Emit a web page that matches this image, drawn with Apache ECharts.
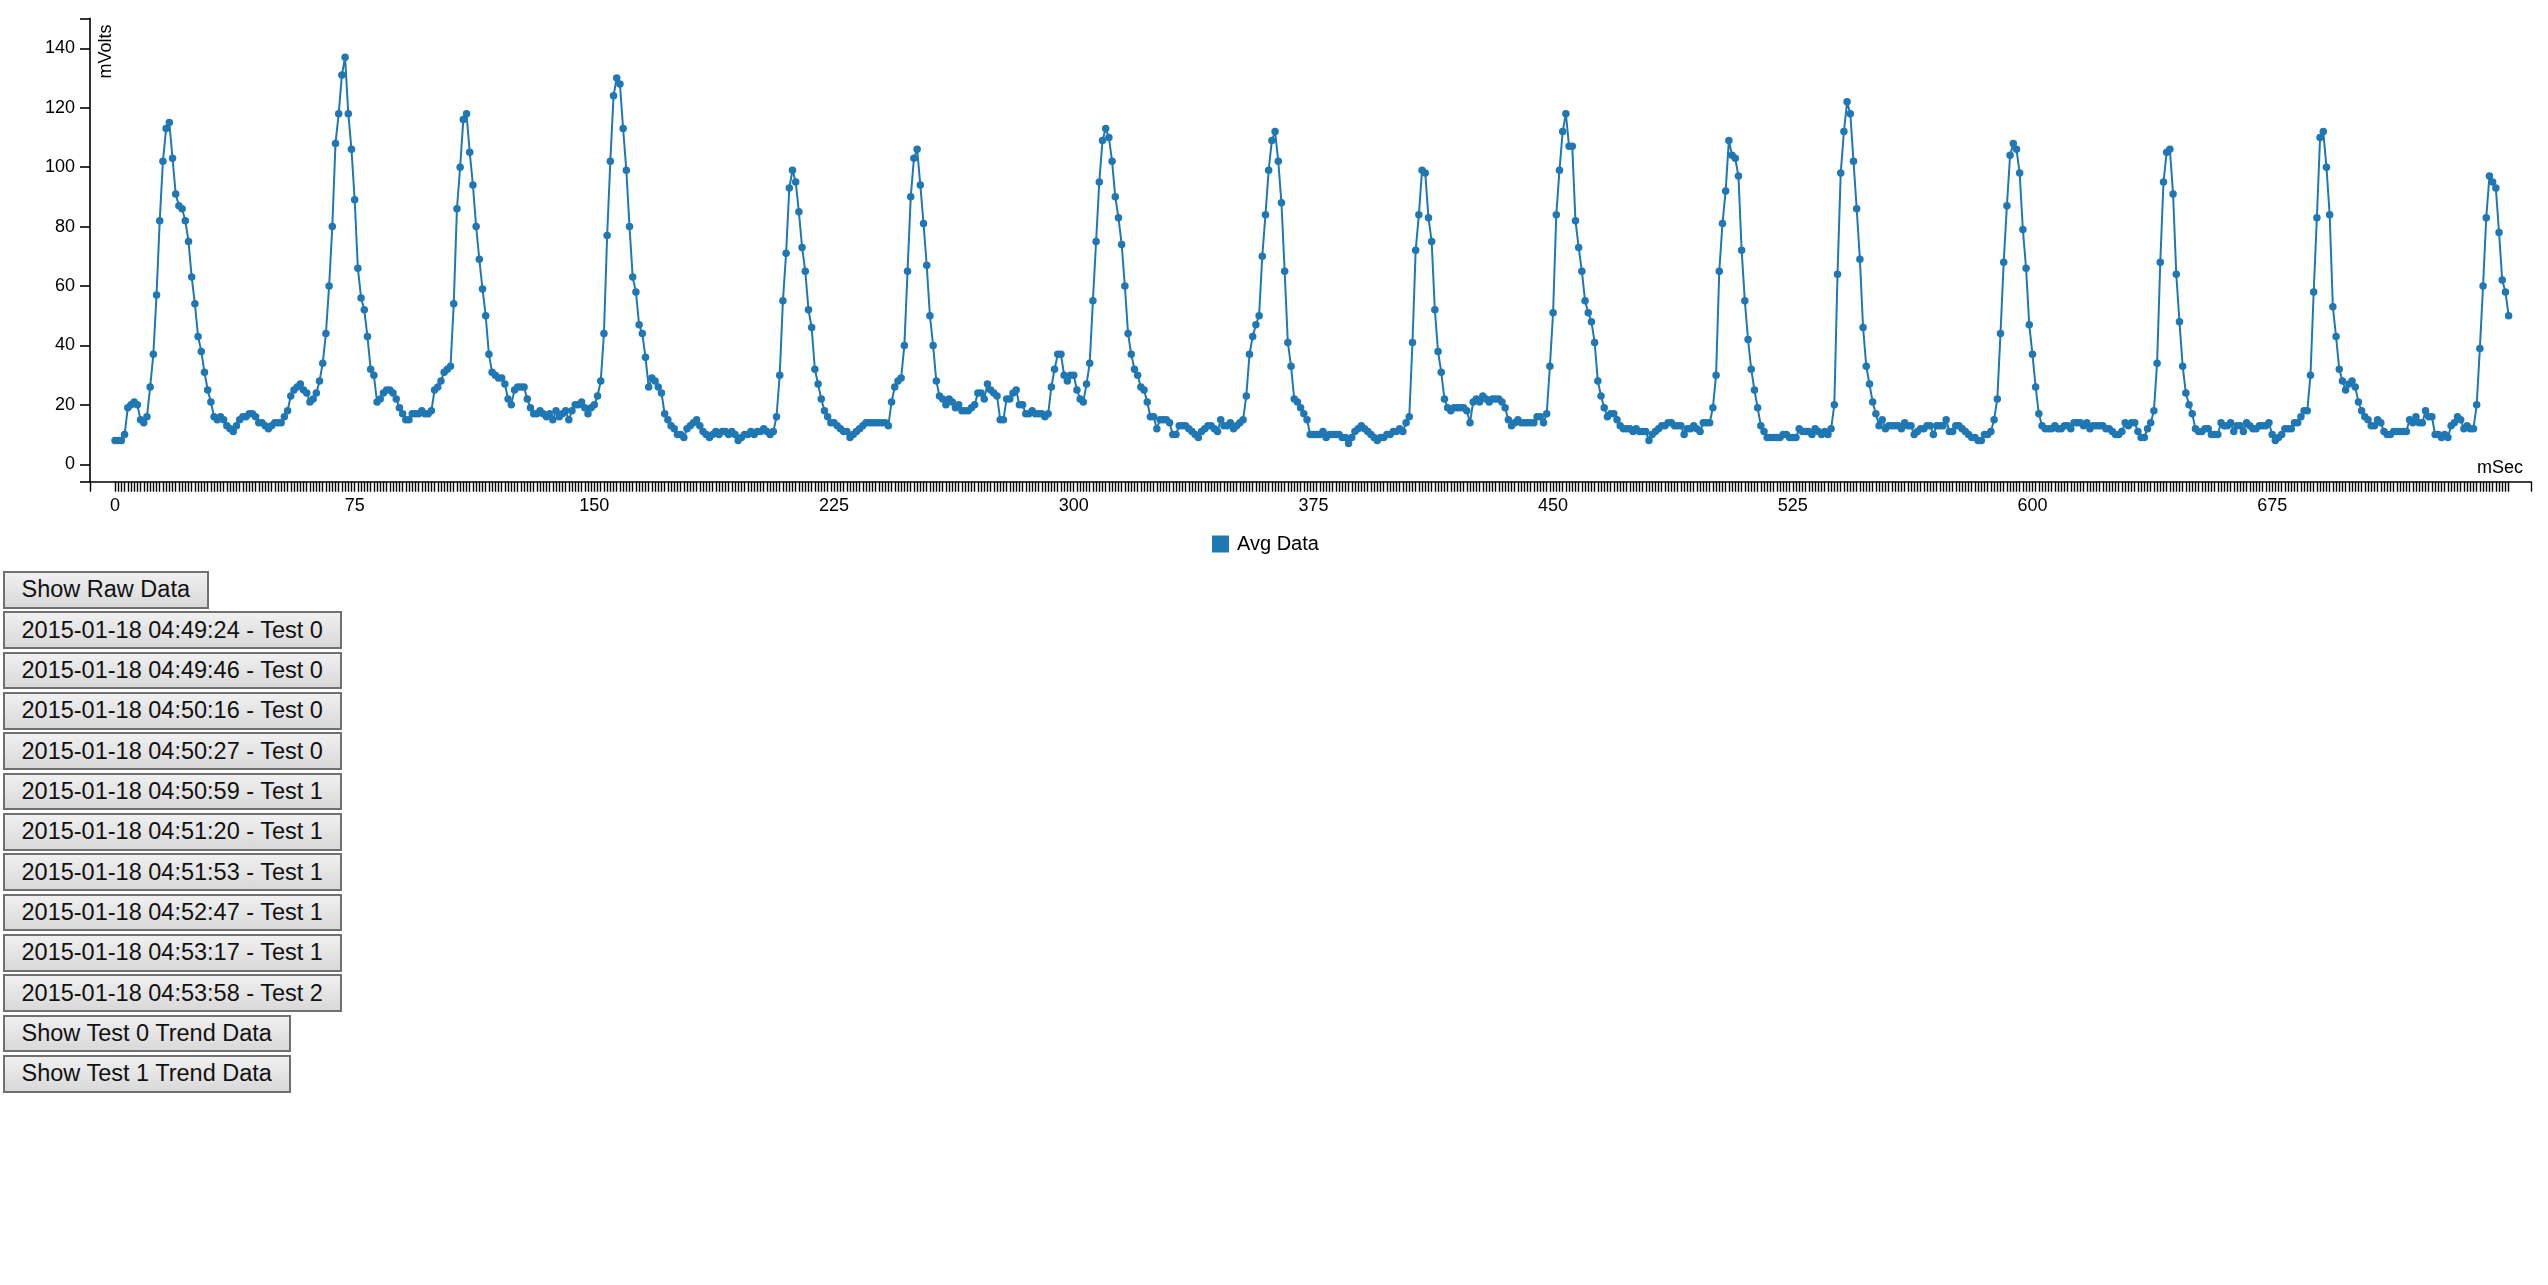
<!DOCTYPE html>
<html>
<head>
<meta charset="utf-8">
<title>Avg Data</title>
<script src="https://cdn.jsdelivr.net/npm/echarts@6/dist/echarts.min.js"></script>
<style>
html, body { margin: 0; padding: 0; background: #fff; }
#chart { position: absolute; left: 0; top: 0; width: 2548px; height: 565px; }
#buttons { position: absolute; left: 2.5px; top: 571px; }
#buttons button {
  display: block; box-sizing: border-box; height: 37.5px; margin: 0 0 2.85px 0;
  padding: 0 17px; border: 2px solid #707070;
  background: linear-gradient(#f0f0f0, #d9d9d9);
  font: 23.5px "Liberation Sans", Arial, sans-serif; color: #111; cursor: pointer;
}
</style>
</head>
<body>
<div id="chart"></div>
<div id="buttons">
  <button>Show Raw Data</button>
  <button>2015-01-18 04:49:24 - Test 0</button>
  <button>2015-01-18 04:49:46 - Test 0</button>
  <button>2015-01-18 04:50:16 - Test 0</button>
  <button>2015-01-18 04:50:27 - Test 0</button>
  <button>2015-01-18 04:50:59 - Test 1</button>
  <button>2015-01-18 04:51:20 - Test 1</button>
  <button>2015-01-18 04:51:53 - Test 1</button>
  <button>2015-01-18 04:52:47 - Test 1</button>
  <button>2015-01-18 04:53:17 - Test 1</button>
  <button>2015-01-18 04:53:58 - Test 2</button>
  <button>Show Test 0 Trend Data</button>
  <button>Show Test 1 Trend Data</button>
</div>
<script>
// Avg Data (mVolts), one value per mSec
const avgData_0_149 = [
  8, 8, 8, 10, 19, 20, 21, 20, 15, 14,
  16, 26, 37, 57, 82, 102, 113, 115, 103, 91,
  87, 86, 82, 75, 63, 54, 43, 38, 31, 25,
  21, 16, 15, 16, 15, 13, 12, 11, 13, 15,
  16, 16, 17, 17, 16, 14, 14, 13, 12, 13,
  14, 14, 14, 16, 18, 23, 25, 26, 27, 25,
  24, 21, 22, 24, 28, 34, 44, 60, 80, 108,
  118, 131, 137, 118, 106, 89, 66, 56, 52, 43,
  32, 30, 21, 22, 24, 25, 25, 24, 22, 19,
  17, 15, 15, 17, 17, 17, 18, 17, 17, 18,
  25, 26, 28, 31, 32, 33, 54, 86, 100, 116,
  118, 105, 94, 80, 69, 59, 50, 37, 31, 30,
  29, 29, 27, 22, 20, 25, 26, 26, 26, 22,
  19, 17, 17, 18, 17, 16, 17, 15, 18, 16,
  17, 18, 15, 18, 20, 20, 21, 19, 17, 19
];
const avgData_150_299 = [
  20, 23, 28, 44, 77, 102, 124, 130, 128, 113,
  99, 80, 63, 58, 47, 44, 36, 26, 29, 28,
  26, 24, 17, 15, 13, 12, 10, 10, 9, 12,
  13, 14, 15, 13, 11, 10, 9, 10, 11, 10,
  11, 11, 10, 11, 10, 8, 9, 10, 10, 11,
  10, 11, 11, 12, 11, 10, 11, 16, 30, 55,
  71, 93, 99, 95, 85, 73, 65, 52, 46, 32,
  27, 22, 18, 16, 14, 14, 13, 12, 11, 11,
  9, 10, 11, 12, 13, 14, 14, 14, 14, 14,
  14, 14, 13, 21, 26, 28, 29, 40, 65, 90,
  103, 106, 94, 81, 67, 50, 40, 28, 23, 22,
  20, 22, 21, 19, 20, 18, 18, 18, 19, 20,
  24, 24, 22, 27, 25, 24, 23, 15, 15, 22,
  22, 24, 25, 20, 20, 17, 17, 18, 17, 17,
  17, 16, 17, 26, 32, 37, 37, 30, 28, 30
];
const avgData_300_449 = [
  30, 25, 22, 21, 27, 34, 55, 75, 95, 109,
  113, 110, 102, 90, 83, 74, 60, 44, 37, 32,
  30, 26, 25, 21, 16, 16, 12, 15, 15, 15,
  14, 10, 10, 13, 13, 13, 12, 11, 10, 9,
  11, 12, 13, 13, 12, 11, 15, 13, 13, 14,
  12, 13, 14, 15, 23, 37, 43, 47, 50, 70,
  84, 99, 109, 112, 102, 88, 65, 41, 33, 22,
  21, 19, 17, 15, 10, 10, 10, 10, 11, 9,
  10, 10, 10, 10, 9, 9, 7, 9, 11, 12,
  13, 12, 11, 10, 9, 8, 9, 9, 10, 10,
  11, 11, 12, 11, 14, 16, 41, 72, 84, 99,
  98, 83, 75, 52, 38, 31, 22, 19, 18, 19,
  19, 19, 19, 18, 14, 21, 22, 21, 23, 22,
  21, 22, 22, 22, 21, 19, 15, 13, 14, 15,
  14, 14, 14, 14, 14, 16, 16, 14, 17, 33
];
const avgData_450_599 = [
  51, 84, 99, 112, 118, 107, 107, 82, 73, 65,
  55, 51, 48, 41, 28, 23, 19, 16, 17, 17,
  15, 13, 12, 12, 12, 11, 12, 11, 11, 11,
  8, 10, 11, 12, 13, 13, 14, 14, 13, 13,
  13, 10, 12, 12, 13, 12, 11, 14, 14, 14,
  19, 30, 65, 81, 92, 109, 104, 103, 97, 72,
  55, 42, 32, 25, 19, 13, 11, 9, 9, 9,
  9, 9, 10, 10, 9, 9, 9, 12, 11, 11,
  11, 10, 12, 11, 10, 11, 10, 12, 20, 64,
  98, 112, 122, 118, 102, 86, 69, 46, 33, 27,
  21, 17, 13, 15, 12, 13, 13, 13, 13, 12,
  14, 13, 13, 10, 11, 12, 12, 13, 13, 10,
  13, 13, 13, 15, 11, 11, 13, 13, 12, 11,
  10, 9, 9, 8, 8, 10, 10, 11, 15, 22,
  44, 68, 87, 104, 108, 106, 98, 79, 66, 47
];
const avgData_600_749 = [
  37, 26, 17, 13, 12, 12, 12, 13, 12, 12,
  13, 13, 12, 14, 14, 14, 13, 14, 12, 13,
  13, 13, 13, 12, 12, 11, 10, 10, 11, 14,
  13, 14, 14, 11, 9, 9, 12, 14, 18, 34,
  68, 95, 105, 106, 91, 64, 48, 33, 24, 20,
  17, 12, 11, 11, 12, 12, 10, 10, 10, 14,
  13, 13, 14, 11, 13, 13, 11, 14, 13, 12,
  12, 13, 13, 13, 14, 10, 8, 9, 10, 12,
  12, 12, 14, 14, 16, 18, 18, 30, 58, 83,
  110, 112, 100, 84, 53, 43, 32, 28, 25, 27,
  28, 26, 21, 18, 16, 15, 13, 13, 15, 14,
  11, 10, 10, 11, 11, 11, 11, 11, 15, 14,
  16, 14, 14, 18, 16, 16, 10, 10, 9, 10,
  9, 13, 14, 16, 15, 12, 13, 12, 12, 20,
  39, 60, 83, 97, 95, 93, 78, 62, 58, 50
];

const xTickLabels = [0, 75, 150, 225, 300, 375, 450, 525, 600, 675];
const yTickLabels = [0, 20, 40, 60, 80, 100, 120, 140];
const seriesName = 'Avg Data';
const xTitle = 'mSec';
const yTitle = 'mVolts';

const avgData = [].concat(avgData_0_149, avgData_150_299, avgData_300_449, avgData_450_599, avgData_600_749);
const points = avgData.map((v, i) => [i, v]);

const X_MIN = -7.82, X_MAX = 756;
const Y_MIN = -5.86, Y_MAX = 150.1;

// one tick per mSec sample plus the outer ticks at both axis ends
const xTickValues = [X_MIN].concat(avgData.map((v, i) => i), [X_MAX]);
const yTickValues = [Y_MIN].concat(yTickLabels, [Y_MAX]);

const FONT = '"Liberation Sans", Arial, sans-serif';
const BLUE = '#1f77b4';

const chart = echarts.init(document.getElementById('chart'));
chart.setOption({
  animation: false,
  backgroundColor: '#fff',
  grid: { left: 90, right: 17, top: 18.3, bottom: 565 - 481.7, containLabel: false },
  legend: {
    data: [seriesName],
    left: 1212, top: 534,
    icon: 'rect', itemWidth: 17, itemHeight: 17,
    padding: 0,
    itemStyle: { color: BLUE },
    textStyle: { fontSize: 20, color: '#000', fontFamily: FONT, padding: [0, 0, 0, 3] }
  },
  xAxis: {
    type: 'value', min: X_MIN, max: X_MAX,
    splitLine: { show: false },
    axisLine: { show: true, onZero: false, lineStyle: { color: '#000', width: 1.6 } },
    axisTick: { show: true, length: 10, customValues: xTickValues, lineStyle: { color: '#000', width: 1.4 } },
    axisLabel: { customValues: xTickLabels, margin: 15, fontSize: 18, color: '#000', fontFamily: FONT,
                 showMinLabel: true, showMaxLabel: true }
  },
  yAxis: {
    type: 'value', min: Y_MIN, max: Y_MAX,
    splitLine: { show: false },
    axisLine: { show: true, onZero: false, lineStyle: { color: '#000', width: 1.6 } },
    axisTick: { show: true, length: 10, customValues: yTickValues, lineStyle: { color: '#000', width: 1.6 } },
    axisLabel: { customValues: yTickLabels, margin: 15, fontSize: 18, color: '#000', fontFamily: FONT }
  },
  graphic: [
    { type: 'text', x: 106.5, y: 51.5, rotation: Math.PI / 2,
      style: { text: yTitle, fontSize: 18, fill: '#000', fontFamily: FONT, align: 'center', verticalAlign: 'middle' } },
    { type: 'text', x: 2523, y: 468.5,
      style: { text: xTitle, fontSize: 18, fill: '#000', fontFamily: FONT, align: 'right', verticalAlign: 'middle' } }
  ],
  series: [{
    name: seriesName,
    type: 'line',
    data: points,
    symbol: 'circle',
    symbolSize: 7.5,
    showSymbol: true,
    lineStyle: { color: BLUE, width: 2 },
    itemStyle: { color: BLUE, borderWidth: 0 },
    emphasis: { disabled: true }
  }]
});
</script>
</body>
</html>
